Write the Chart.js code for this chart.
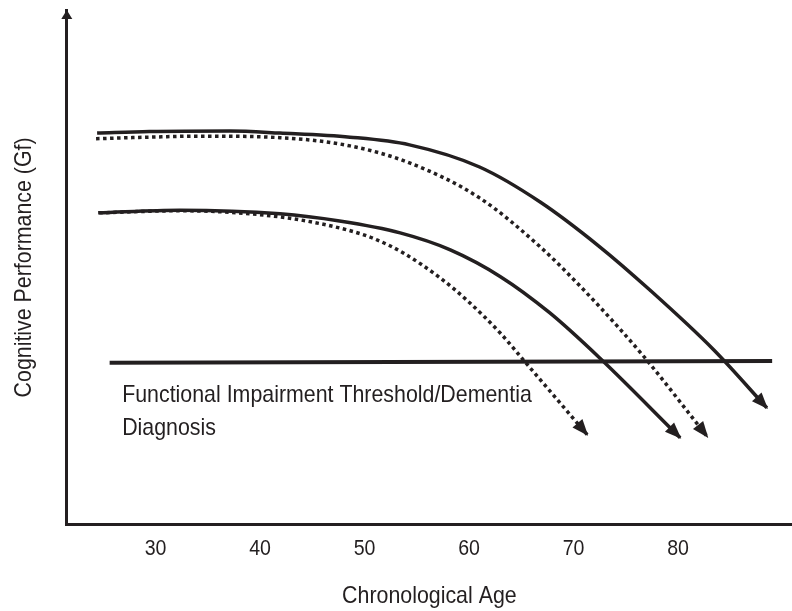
<!DOCTYPE html>
<html>
<head>
<meta charset="utf-8">
<script src="https://cdn.jsdelivr.net/npm/chart.js"></script>
<style>
  html, body { margin: 0; padding: 0; background: #ffffff; }
  #wrap { width: 792px; height: 611px; }
</style>
</head>
<body>
<div id="wrap"><canvas id="c" width="792" height="611"></canvas></div>
<script>
// ---- data ----
const ageTicks = [30, 40, 50, 60, 70, 80];

const upperSolidAge  = [24.4, 29.4, 37.1, 41.9, 48.6, 54.3, 61.0, 66.8, 72.5, 77.3, 83.4, 88.5];
const upperSolidPerf = [76.1, 76.4, 76.5, 76.1, 75.3, 73.8, 69.5, 62.7, 54.0, 45.6, 34.0, 22.7];

const upperDottedAge  = [24.3, 29.4, 34.2, 41.9, 48.6, 54.3, 61.0, 66.8, 70.6, 74.4, 77.0, 82.8];
const upperDottedPerf = [75.0, 75.3, 75.5, 75.2, 73.6, 70.3, 63.5, 54.0, 46.4, 38.1, 32.0, 17.1];

const lowerSolidAge  = [24.5, 32.3, 41.9, 47.6, 53.4, 58.2, 63.0, 67.7, 72.5, 80.2];
const lowerSolidPerf = [60.6, 61.1, 60.4, 59.0, 56.7, 53.4, 48.2, 41.2, 32.4, 16.9];

const lowerDottedAge  = [24.6, 32.3, 41.9, 48.3, 51.0, 53.7, 57.2, 59.8, 63.0, 65.2, 71.3];
const lowerDottedPerf = [60.6, 61.0, 59.8, 57.3, 55.5, 52.8, 48.0, 43.6, 37.2, 32.0, 17.5];

const thresholdAge  = [25.6, 89.0];
const thresholdPerf = [31.5, 31.8];

const xTitle = 'Chronological Age';
const yTitle = 'Cognitive Performance (Gf)';
const thresholdLabel = ['Functional Impairment Threshold/Dementia', 'Diagnosis'];
const thresholdLabelAge = 26.8;

// ---- helpers ----
const INK = '#231f20';
const FONT = "'Liberation Sans', Arial, sans-serif";
const CONDENSE = 0.89;   // narrow (condensed) type, as in the reference
const pts = (xs, ys) => xs.map((x, i) => ({ x: x, y: ys[i] }));

const canvas = document.getElementById('c');
const ctx2d = canvas.getContext('2d');
// draw every text horizontally condensed around its anchor
const origFillText = ctx2d.fillText;
ctx2d.fillText = function (t, x, y, mw) {
  this.save();
  this.translate(x, y);
  this.scale(CONDENSE, 1);
  origFillText.call(this, t, 0, 0);
  this.restore();
};

const arrowPlugin = {
  id: 'arrows',
  afterDatasetsDraw(chart) {
    const ctx = chart.ctx;
    const ca = chart.chartArea;
    ctx.save();
    ctx.fillStyle = INK;
    // y-axis arrow head
    ctx.beginPath();
    ctx.moveTo(ca.left, ca.top);
    ctx.lineTo(ca.left - 5.5, ca.top + 9);
    ctx.lineTo(ca.left + 5.5, ca.top + 9);
    ctx.closePath();
    ctx.fill();
    // curve arrow heads
    chart.data.datasets.forEach((ds, i) => {
      if (!ds.arrow) return;
      const meta = chart.getDatasetMeta(i);
      const n = meta.data.length;
      const p = meta.data[n - 1];
      const q = meta.data[n - 2];
      let dx = p.x - (p.cp1x !== undefined ? p.cp1x : q.x);
      let dy = p.y - (p.cp1y !== undefined ? p.cp1y : q.y);
      let len = Math.hypot(dx, dy);
      if (len < 0.5) { dx = p.x - q.x; dy = p.y - q.y; len = Math.hypot(dx, dy); }
      const ux = dx / len, uy = dy / len;
      const L = 15, W = 6.5;
      const bx = p.x - ux * L, by = p.y - uy * L;
      ctx.beginPath();
      ctx.moveTo(p.x + ux * 1.5, p.y + uy * 1.5);
      ctx.lineTo(bx - uy * W, by + ux * W);
      ctx.lineTo(bx + uy * W, by - ux * W);
      ctx.closePath();
      ctx.fill();
    });
    // threshold label
    const xs = chart.scales.x, ys = chart.scales.y;
    const tx = xs.getPixelForValue(thresholdLabelAge);
    const ty = ys.getPixelForValue(thresholdPerf[0]);
    ctx.font = '24px ' + FONT;
    ctx.textAlign = 'left';
    ctx.textBaseline = 'middle';
    ctx.fillText(thresholdLabel[0], tx, ty + 33);
    ctx.fillText(thresholdLabel[1], tx, ty + 66);
    ctx.restore();
  }
};

const solid = { borderColor: INK, borderWidth: 3.5, pointRadius: 0, fill: false,
                cubicInterpolationMode: 'monotone', borderCapStyle: 'butt', arrow: true };
const dotted = Object.assign({}, solid, { borderDash: [3.5, 3.5] });

new Chart(ctx2d, {
  type: 'line',
  data: {
    datasets: [
      { label: 'threshold', data: pts(thresholdAge, thresholdPerf), borderColor: INK,
        borderWidth: 4, pointRadius: 0, fill: false, tension: 0, borderCapStyle: 'butt' },
      Object.assign({ label: 'upper solid',  data: pts(upperSolidAge, upperSolidPerf) }, solid),
      Object.assign({ label: 'upper dotted', data: pts(upperDottedAge, upperDottedPerf) }, dotted),
      Object.assign({ label: 'lower solid',  data: pts(lowerSolidAge, lowerSolidPerf) }, solid),
      Object.assign({ label: 'lower dotted', data: pts(lowerDottedAge, lowerDottedPerf) }, dotted)
    ]
  },
  options: {
    responsive: false,
    devicePixelRatio: 1,
    animation: false,
    events: [],
    layout: { padding: { top: 10, right: 0, bottom: 0, left: 0 } },
    plugins: { legend: { display: false }, tooltip: { enabled: false } },
    scales: {
      x: {
        type: 'linear', min: 21.5, max: 90.9,
        afterBuildTicks: (axis) => { axis.ticks = ageTicks.map(v => ({ value: v })); },
        grid: { display: false, drawTicks: false },
        border: { display: true, color: INK, width: 3 },
        ticks: { color: INK, padding: 11, maxRotation: 0, autoSkip: false,
                 font: { family: FONT, size: 22 } },
        title: { display: true, text: xTitle, color: INK,
                 font: { family: FONT, size: 24 }, padding: { top: 9, bottom: 0 } }
      },
      y: {
        type: 'linear', min: 0, max: 100,
        grid: { display: false, drawTicks: false },
        border: { display: true, color: INK, width: 3 },
        ticks: { display: false },
        title: { display: true, text: yTitle, color: INK,
                 font: { family: FONT, size: 24 }, padding: { top: 10, bottom: 28 } }
      }
    }
  },
  plugins: [arrowPlugin]
});
</script>
</body>
</html>
